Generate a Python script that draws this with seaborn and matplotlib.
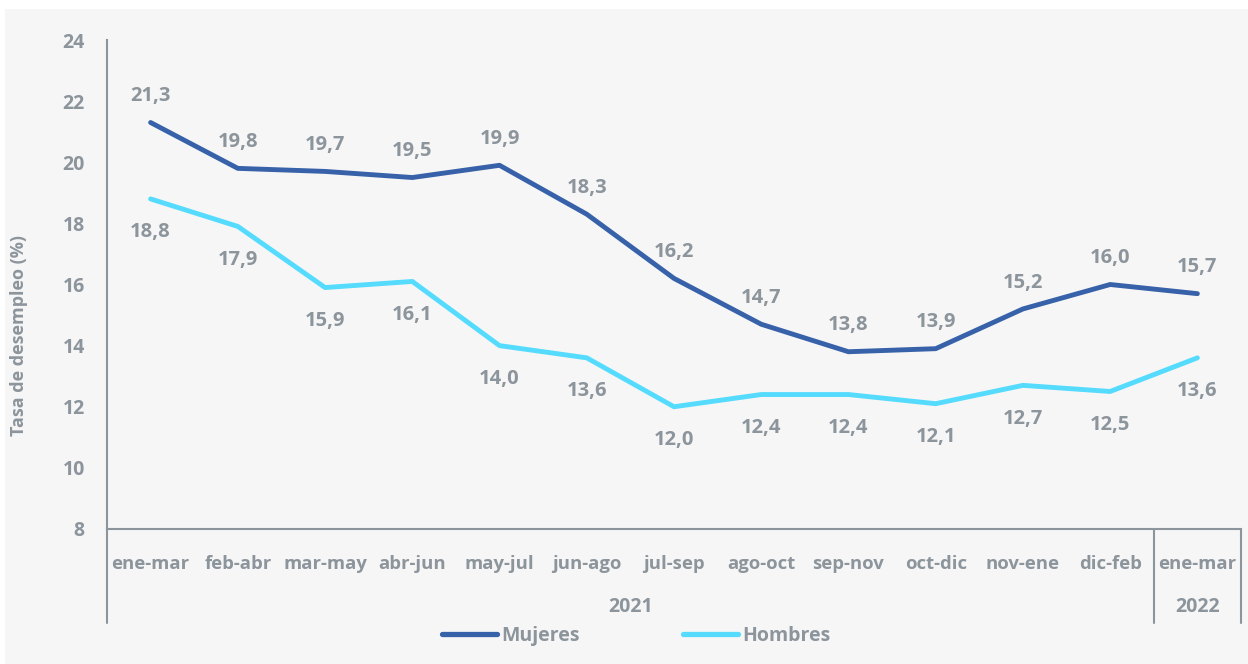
import numpy as np
import pandas as pd
import matplotlib.pyplot as plt
import matplotlib.transforms as mtransforms
from matplotlib.patches import Rectangle
import seaborn as sns

# periods (moving quarters), 2021 + first 2022
periodos = ["ene-mar", "feb-abr", "mar-may", "abr-jun", "may-jul", "jun-ago",
            "jul-sep", "ago-oct", "sep-nov", "oct-dic", "nov-ene", "dic-feb", "ene-mar"]
mujeres = [21.3, 19.8, 19.7, 19.5, 19.9, 18.3, 16.2, 14.7, 13.8, 13.9, 15.2, 16.0, 15.7]
hombres = [18.8, 17.9, 15.9, 16.1, 14.0, 13.6, 12.0, 12.4, 12.4, 12.1, 12.7, 12.5, 13.6]
anios = ["2021", "2022"]
yticks = [8, 10, 12, 14, 16, 18, 20, 22, 24]

GRIS = "#8c949c"
BG = "#f6f6f6"
AZUL = "#3761a8"
CELESTE = "#55dbfd"

df = pd.DataFrame({
    "pos": list(range(len(periodos))) * 2,
    "valor": mujeres + hombres,
    "serie": ["Mujeres"] * len(mujeres) + ["Hombres"] * len(hombres),
})

sns.set_style("white")
plt.rcParams["font.family"] = ["Open Sans", "DejaVu Sans"]
plt.rcParams["font.weight"] = "bold"

fig = plt.figure(figsize=(12.48, 6.64), dpi=100, facecolor="white")
fig.patches.append(Rectangle((5 / 1248, 0), 1, 1 - 9 / 664, transform=fig.transFigure,
                             facecolor=BG, edgecolor="none", zorder=-10))
ax = fig.add_axes([107 / 1248, 1 - 529 / 664, 1134 / 1248, 489 / 664])
ax.set_facecolor(BG)

sns.lineplot(data=df, x="pos", y="valor", hue="serie", palette={"Mujeres": AZUL, "Hombres": CELESTE},
             linewidth=3.5, ax=ax, legend=False, solid_capstyle="round")

for i, v in enumerate(mujeres):
    ax.annotate(f"{v:.1f}".replace(".", ","), (i, v), xytext=(0, 19), textcoords="offset points",
                ha="center", va="center", fontsize=14.5, color=GRIS, fontweight="bold")
for i, v in enumerate(hombres):
    ax.annotate(f"{v:.1f}".replace(".", ","), (i, v), xytext=(0, -24), textcoords="offset points",
                ha="center", va="center", fontsize=14.5, color=GRIS, fontweight="bold")

ax.set_xlim(-0.5, len(periodos) - 0.5)
ax.set_ylim(8, 24)
ax.set_yticks(yticks)
ax.set_yticklabels([str(t) for t in yticks], fontsize=14, color=GRIS, fontweight="bold")
ax.tick_params(axis="y", direction="in", length=6, width=1.5, color=GRIS, pad=16)
ax.set_xticks(range(len(periodos)))
ax.set_xticklabels(periodos, fontsize=13.3, color=GRIS, fontweight="bold")
ax.tick_params(axis="x", length=0, pad=19)

for s in ["top", "right"]:
    ax.spines[s].set_visible(False)
for s in ["left", "bottom"]:
    ax.spines[s].set_color(GRIS)
    ax.spines[s].set_linewidth(1.5)

ax.set_xlabel("")
ax.set_ylabel("Tasa de desempleo (%)", fontsize=13, color=GRIS, fontweight="bold")
ax.yaxis.set_label_coords(-0.0697, 0.395)

# year group separators below the axis
trans = mtransforms.blended_transform_factory(ax.transData, ax.transAxes)
for xs in [-0.5, 11.5, 12.5]:
    ax.plot([xs, xs], [0, -0.192], transform=trans, color=GRIS, lw=1.5, clip_on=False)
ax.text(5.5, -0.16, anios[0], transform=trans, ha="center", va="center",
        fontsize=14, color=GRIS, fontweight="bold")
ax.text(12.0, -0.16, anios[1], transform=trans, ha="center", va="center",
        fontsize=14, color=GRIS, fontweight="bold")

handles = [plt.Line2D([], [], color=AZUL, lw=3.8, solid_capstyle="round"),
           plt.Line2D([], [], color=CELESTE, lw=3.8, solid_capstyle="round")]
leg = fig.legend(handles, ["Mujeres", "Hombres"], loc="center", bbox_to_anchor=(636 / 1248, 1 - 636 / 664),
                 ncol=2, frameon=False, handlelength=2.85, handletextpad=0.2, columnspacing=5.3,
                 prop={"size": 14, "weight": "bold"})
for t in leg.get_texts():
    t.set_color(GRIS)

fig.savefig("out.png", dpi=100, facecolor=fig.get_facecolor())
